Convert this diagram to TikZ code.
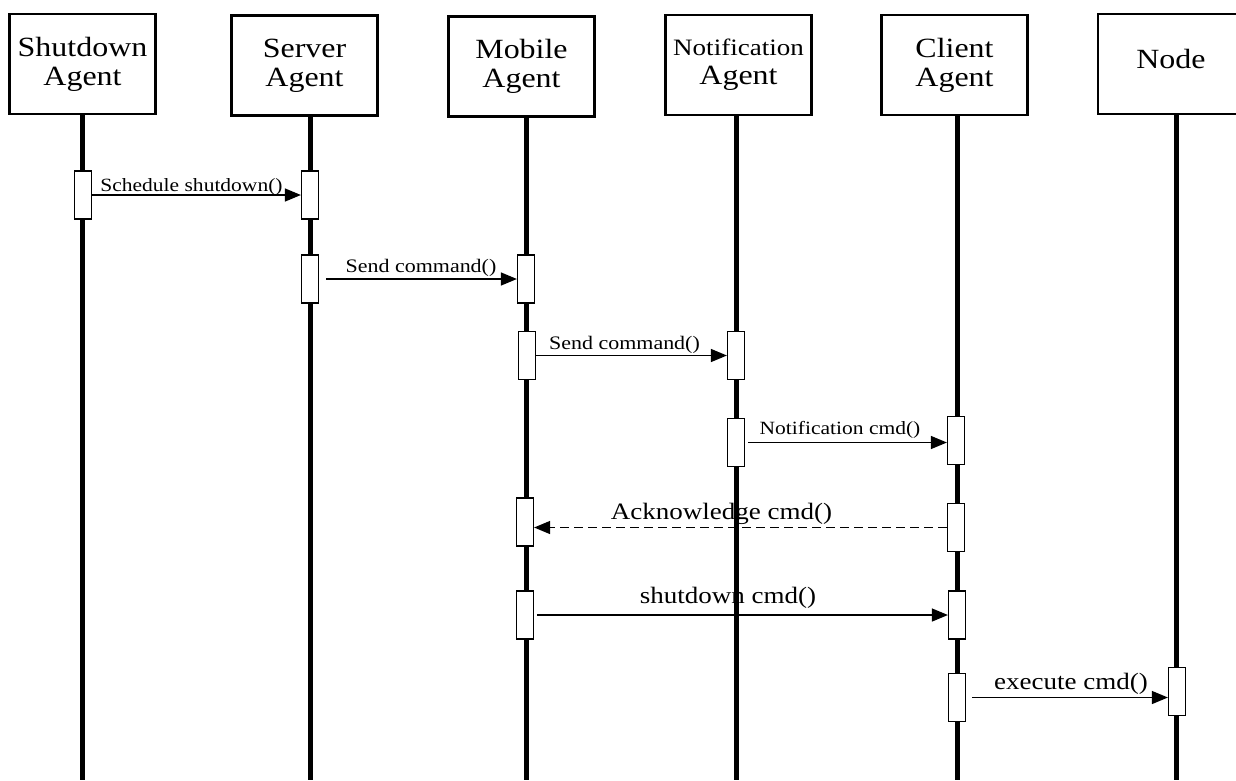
\documentclass[tikz,border=0pt]{standalone}
\usepackage{fontspec}
\setmainfont[FakeStretch=1.15]{Liberation Serif}
\usetikzlibrary{arrows.meta}

\tikzset{
    agent/.style={draw, line width=2.5pt, minimum width=146pt, minimum height=100pt,
        inner sep=0pt, align=center, font=\fontsize{27.8}{29}\selectfont},
    life/.style={line width=5pt},
    act/.style={draw, line width=1.2pt, fill=white, minimum width=17pt,
        minimum height=48pt, inner sep=0pt},
    msg/.style={line width=1.3pt, -{Triangle[length=16pt, width=13pt]}},
    reply/.style={msg, dash pattern=on 9pt off 5pt},
    lbl/.style={anchor=base, inner sep=0pt, font=\fontsize{19.1}{20}\selectfont},
    biglbl/.style={lbl, font=\fontsize{23.5}{24}\selectfont},
}

\begin{document}
\begin{tikzpicture}[x=1pt, y=-1pt]
        \path [use as bounding box, clip] (0, 0) rectangle (1236, 780);

        % agents
        \node [agent] (SD) at (82.5, 64) {Shutdown\\Agent};
        \node [agent] (SV) at (304.5, 65.5) {Server\\Agent};
        \node [agent] (MB) at (521.5, 66.5) {Mobile\\Agent};
        \node [agent] (NT) at (738.5, 65) {{\fontsize{23.5}{29}\selectfont Notification}\\Agent};
        \node [agent] (CL) at (954.5, 65) {Client\\Agent};
        \node [agent, text depth=10pt] (ND) at (1171, 64) {Node};

        % lifelines
        \coordinate (SDe) at (82, 780);
        \coordinate (SVe) at (310, 780);
        \coordinate (MBe) at (526, 780);
        \coordinate (NTe) at (736, 780);
        \coordinate (CLe) at (957, 780);
        \coordinate (NDe) at (1176, 780);
        \draw [life] (SD.south -| SDe) -- (SDe);
        \draw [life] (SV.south -| SVe) -- (SVe);
        \draw [life] (MB.south -| MBe) -- (MBe);
        \draw [life] (NT.south -| NTe) -- (NTe);
        \draw [life] (CL.south -| CLe) -- (CLe);
        \draw [life] (ND.south -| NDe) -- (NDe);

        % activations
        \node [act] (sd1) at (83, 195) {};
        \node [act] (sv1) at (310, 195) {};
        \node [act] (sv2) at (310, 279) {};
        \node [act] (mb2) at (526, 279) {};
        \node [act] (mb3) at (527, 355.5) {};
        \node [act] (nt3) at (736, 355.5) {};
        \node [act] (nt4) at (736, 442.5) {};
        \node [act] (cl4) at (956, 440.5) {};
        \node [act] (mb5) at (525, 522) {};
        \node [act] (cl5) at (956, 527.5) {};
        \node [act] (mb6) at (525, 615) {};
        \node [act] (cl6) at (957, 615) {};
        \node [act] (cl7) at (957, 697.5) {};
        \node [act] (nd7) at (1177, 691.5) {};

        % messages
        \draw [msg] (sd1.east) -- (sd1.east -| sv1.west)
            node [lbl, midway, xshift=-5pt, yshift=4pt, font=\fontsize{18.7}{20}\selectfont] {Schedule shutdown()};
        \draw [msg, shorten <=7pt] (sv2.east) -- (sv2.east -| mb2.west)
            node [lbl, midway, xshift=3pt, yshift=7pt] {Send command()};
        \draw [msg] (mb3.east) -- (mb3.east -| nt3.west)
            node [lbl, midway, xshift=-7pt, yshift=6pt] {Send command()};
        \draw [msg, shorten <=3pt] (nt4.east) -- (nt4.east -| cl4.west)
            node [lbl, midway, xshift=-6pt, yshift=8pt, font=\fontsize{18.7}{20}\selectfont] {Notification cmd()};
        \draw [reply] (cl5.west) -- (cl5.west -| mb5.east)
            node [biglbl, midway, xshift=-19pt, yshift=8pt] {Acknowledge cmd()};
        \draw [msg, shorten <=3pt] (mb6.east) -- (mb6.east -| cl6.west)
            node [biglbl, midway, xshift=-13pt, yshift=12pt] {shutdown cmd()};
        \draw [msg, shorten <=6pt] (cl7.east) -- (cl7.east -| nd7.west)
            node [biglbl, midway, xshift=4pt, yshift=8pt] {execute cmd()};
    \end{tikzpicture}
\end{document}
